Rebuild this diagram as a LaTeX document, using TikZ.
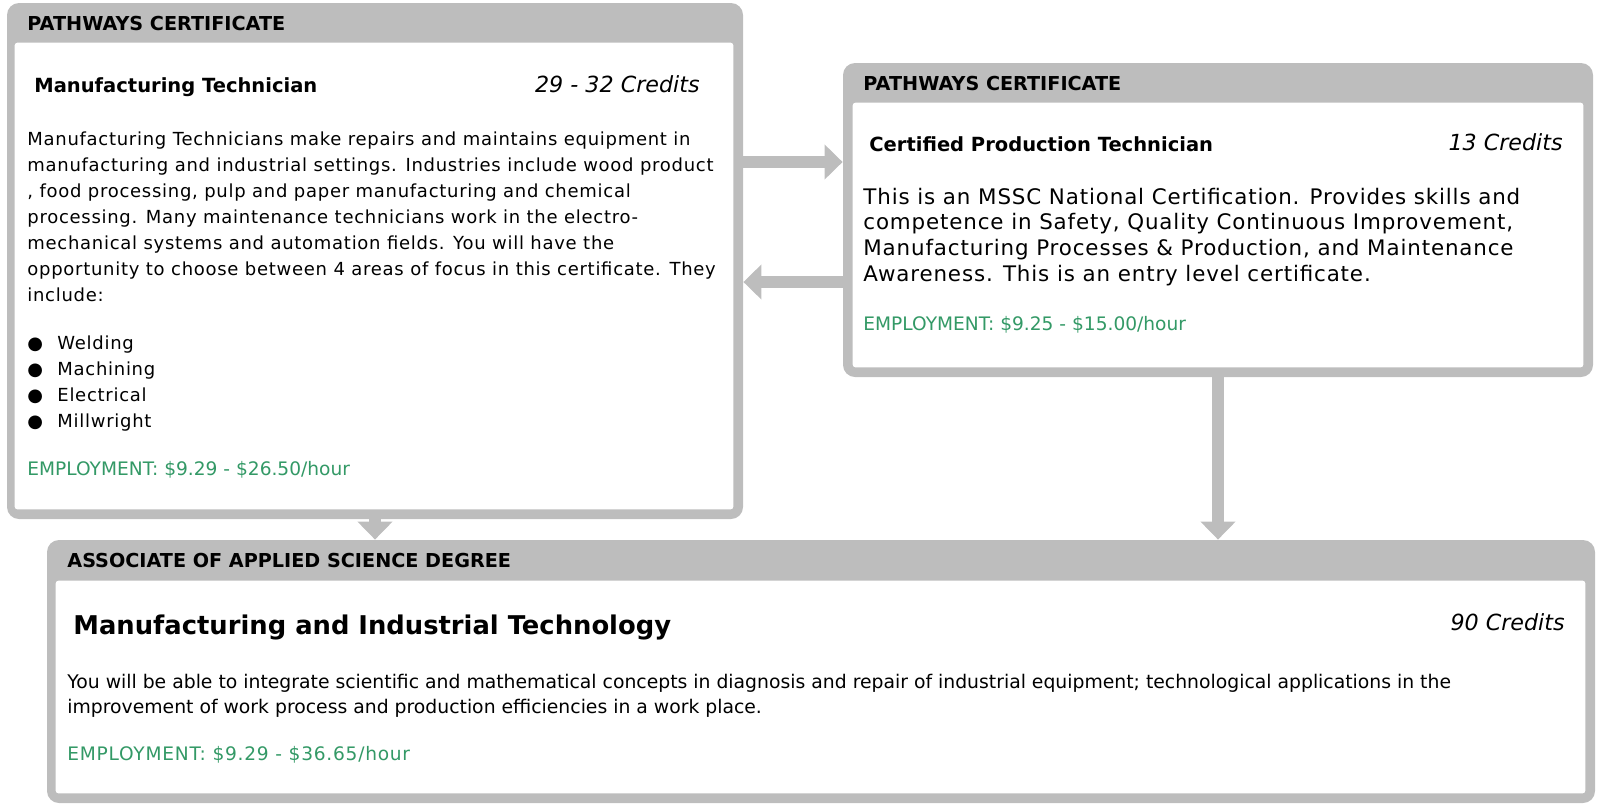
\documentclass[tikz,border=0pt]{standalone}
\usepackage{fontspec}
\setmainfont{DejaVu Sans}
\usetikzlibrary{arrows.meta}
\definecolor{framegray}{RGB}{189,189,189}
\definecolor{paygreen}{RGB}{51,153,102}

\begin{document}
\begin{tikzpicture}[x=0.5pt,y=-0.5pt,
    frame/.style={fill=framegray,rounded corners=6pt,inner sep=0pt},
    inner/.style={fill=white,rounded corners=1.5pt},
    flow/.style={draw=framegray,line width=6pt,-{Triangle[width=17pt,length=9pt]}},
    head/.style={anchor=base west,inner sep=0pt,font=\fontsize{9.6}{11}\selectfont\bfseries},
    title/.style={anchor=base west,inner sep=0pt,font=\fontsize{9.75}{12}\selectfont\bfseries},
    credits/.style={anchor=base east,inner sep=0pt,font=\fontsize{11.1}{13}\selectfont\itshape},
    body/.style={anchor=base west,inner sep=0pt,align=left,font=\fontsize{9}{13}\selectfont\addfontfeatures{LetterSpace=4}},
    pay/.style={anchor=base west,inner sep=0pt,text=paygreen,font=\fontsize{9.3}{12}\selectfont}]
  \useasboundingbox (0,0) rectangle (1598,804);

  % boxes
  \node[frame,minimum width=368pt,minimum height=258pt] (mt) at (375,261) {};
  \node[frame,minimum width=375pt,minimum height=157pt] (cpt) at (1218,220) {};
  \node[frame,minimum width=774pt,minimum height=131.5pt] (aas) at (821,671.5) {};
  \fill[inner] ([shift={(8,40)}]mt.north west) rectangle ([shift={(-10,-10)}]mt.south east);
  \fill[inner] ([shift={(10,40)}]cpt.north west) rectangle ([shift={(-10,-10)}]cpt.south east);
  \fill[inner] ([shift={(9,41)}]aas.north west) rectangle ([shift={(-10,-10)}]aas.south east);

  % arrows
  \coordinate (r1) at (0,162);
  \coordinate (r2) at (0,282);
  \draw[flow] (mt.east |- r1) -- (cpt.west |- r1);
  \draw[flow] (cpt.west |- r2) -- (mt.east |- r2);
  \draw[flow] (mt.south) -- (mt.south |- aas.north);
  \draw[flow] (cpt.south) -- (cpt.south |- aas.north);

  % manufacturing technician (multi-line nodes sit on their last baseline)
  \node[head] (mth) at (27,30) {PATHWAYS CERTIFICATE};
  \node[title] (mtt) at (34,92) {Manufacturing Technician};
  \node[credits] (mtc) at (700,92) {29 - 32 Credits};
  \node[body] (mtb) at (27,301) {Manufacturing Technicians make repairs and maintains equipment in\\
    manufacturing and industrial settings. Industries include wood product\\
    , food processing, pulp and paper manufacturing and chemical\\
    processing. Many maintenance technicians work in the electro-\\
    mechanical systems and automation fields. You will have the\\
    opportunity to choose between 4 areas of focus in this certificate. They\\
    include:};
  \node[body] (mtl) at (27,427) {\makebox[15pt][l]{\small●}Welding\\
    \makebox[15pt][l]{\small●}Machining\\
    \makebox[15pt][l]{\small●}Electrical\\
    \makebox[15pt][l]{\small●}Millwright};
  \node[pay] (mtp) at (27,475) {EMPLOYMENT: \$9.29 - \$26.50/hour};

  % certified production technician
  \node[head] (cpth) at (863,90) {PATHWAYS CERTIFICATE};
  \node[title] (cptt) at (869,151) {Certified Production Technician};
  \node[credits] (cptc) at (1563,150) {13 Credits};
  \node[body,font=\fontsize{10.7}{12.8}\selectfont\addfontfeatures{LetterSpace=4}] (cptb) at (863,281) {This is an MSSC National Certification. Provides skills and\\
    competence in Safety, Quality Continuous Improvement,\\
    Manufacturing Processes \& Production, and Maintenance\\
    Awareness. This is an entry level certificate.};
  \node[pay] (cptp) at (863,330) {EMPLOYMENT: \$9.25 - \$15.00/hour};

  % associate degree
  \node[head] (aash) at (67,567) {ASSOCIATE OF APPLIED SCIENCE DEGREE};
  \node[title,font=\fontsize{12.9}{15}\selectfont\bfseries] (aast) at (73,634) {Manufacturing and Industrial Technology};
  \node[credits] (aasc) at (1565,630) {90 Credits};
  \node[body,font=\fontsize{9.4}{12.5}\selectfont] (aasb) at (67,713) {You will be able to integrate scientific and mathematical concepts in diagnosis and repair of industrial equipment; technological applications in the\\
    improvement of work process and production efficiencies in a work place.};
  \node[pay,font=\fontsize{9.3}{12}\selectfont\addfontfeatures{LetterSpace=4}] (aasp) at (67,760) {EMPLOYMENT: \$9.29 - \$36.65/hour};
\end{tikzpicture}
\end{document}
